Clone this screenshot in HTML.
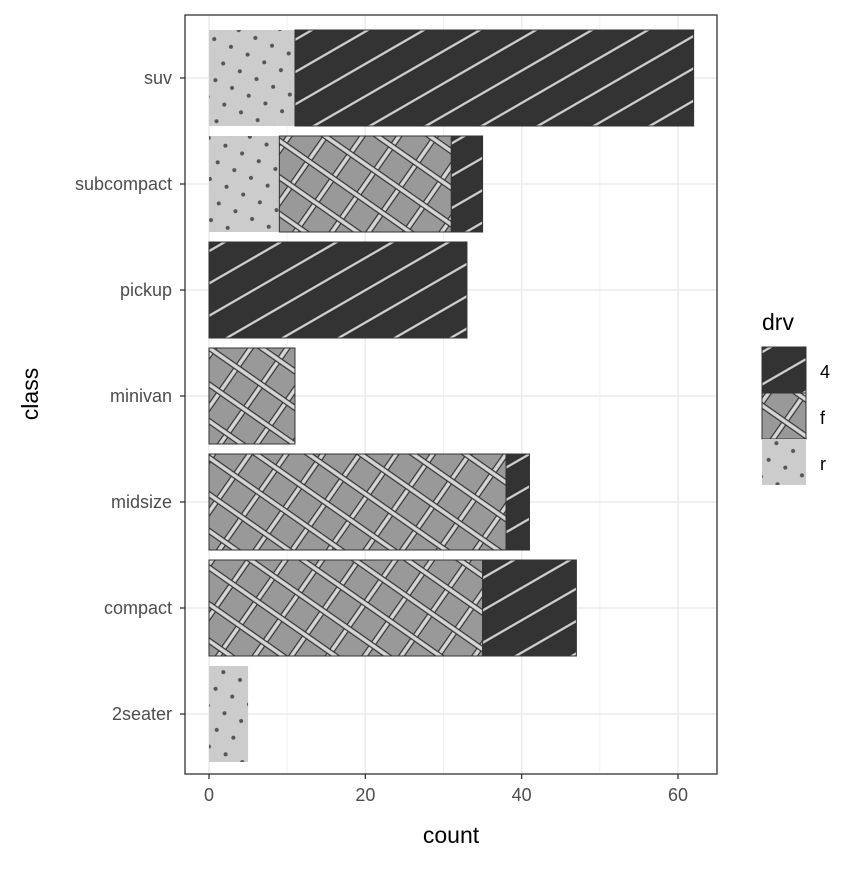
<!DOCTYPE html>
<html><head><meta charset="utf-8"><style>
body{margin:0;background:#fff;}
svg text{font-family:"Liberation Sans",sans-serif;}
</style></head><body>
<svg id="chart" width="864" height="864" xmlns="http://www.w3.org/2000/svg">
<defs>
<pattern id="p4" patternUnits="userSpaceOnUse" width="28" height="28" patternTransform="rotate(-30)">
<rect width="28" height="28" fill="#333333"/>
<rect y="12" width="28" height="4" fill="#222"/>
<rect y="12.8" width="28" height="2.4" fill="#d0d0d0"/>
</pattern>
<pattern id="pf" patternUnits="userSpaceOnUse" width="30" height="30" patternTransform="rotate(-55)">
<rect width="30" height="30" fill="#999999"/>
<rect y="12" width="30" height="6" fill="#333"/>
<rect y="13.2" width="30" height="3.6" fill="#d6d6d6"/>
<rect x="12" width="6" height="30" fill="#333"/>
<rect x="13.2" width="3.6" height="30" fill="#d6d6d6"/>
</pattern>
<pattern id="pr" patternUnits="userSpaceOnUse" width="26" height="26" patternTransform="rotate(-20)">
<rect width="26" height="26" fill="#cccccc"/>
<circle cx="6" cy="6" r="2" fill="#555"/>
<circle cx="19" cy="19" r="2" fill="#555"/>
</pattern>
</defs>
<rect x="185" y="15" width="532" height="759" fill="#fff"/>
<g id="grid"></g>
<g id="bars"></g>
<rect x="185" y="15" width="532" height="759" fill="none" stroke="#333" stroke-width="1.3"/>
<g id="axes"></g>
<text x="451" y="843" font-size="23" text-anchor="middle" fill="#000">count</text>
<text transform="translate(38,394) rotate(-90)" font-size="23" text-anchor="middle" fill="#000">class</text>
<g>
<text x="762" y="330" font-size="23" fill="#000">drv</text>
<g><rect x="762" y="347" width="44" height="46" fill="url(#p4)" stroke="#333"/><text x="820" y="378" font-size="18" fill="#000">4</text></g>
<g><rect x="762" y="393" width="44" height="46" fill="url(#pf)" stroke="#333"/><text x="820" y="424" font-size="18" fill="#000">f</text></g>
<g><rect x="762" y="439" width="44" height="46" fill="url(#pr)"/><text x="820" y="470" font-size="18" fill="#000">r</text></g>
</g>
</svg>
<script>
const categories = ["2seater","compact","midsize","minivan","pickup","subcompact","suv"];
const valuesR = [5,0,0,0,0,9,11];
const valuesF = [0,35,38,11,0,22,0];
const values4 = [0,12,3,0,33,4,51];
const xTicks = [0,20,40,60];
const xMinor = [10,30,50];
const NS="http://www.w3.org/2000/svg";
const xs = v => 209 + v*(678-209)/60;
const ys = i => 714 - i*106;
const bw = 96;
function mk(tag, attrs, parent){const e=document.createElementNS(NS,tag);for(const k in attrs)e.setAttribute(k,attrs[k]);parent.appendChild(e);return e;}
const grid=document.getElementById('grid'), bars=document.getElementById('bars'), axes=document.getElementById('axes');
xMinor.forEach(v=>{const l=mk('line',{x1:xs(v),x2:xs(v),y1:15,y2:774,stroke:'#f2f2f2','stroke-width':1},grid);

});
xTicks.forEach(v=>{const l=mk('line',{x1:xs(v),x2:xs(v),y1:15,y2:774,stroke:'#ebebeb','stroke-width':1.5},grid);


const t=mk('line',{x1:xs(v),x2:xs(v),y1:774,y2:779,stroke:'#333','stroke-width':1.3},axes);


const tx=mk('text',{x:xs(v),y:801,'font-size':18,'text-anchor':'middle',fill:'#4d4d4d'},axes);tx.textContent=v;

});
categories.forEach((c,i)=>{const y=ys(i);
const l=mk('line',{x1:185,x2:717,y1:y,y2:y,stroke:'#ebebeb','stroke-width':1.5},grid);


const t=mk('line',{x1:180,x2:185,y1:y,y2:y,stroke:'#333','stroke-width':1.3},axes);


const tx=mk('text',{x:172,y:y+6,'font-size':18,'text-anchor':'end',fill:'#4d4d4d'},axes);tx.textContent=c;


let start=0;
[[valuesR[i],'url(#pr)','r'],[valuesF[i],'url(#pf)','f'],[values4[i],'url(#p4)','4']].forEach(([v,fill,d])=>{
if(v<=0)return;
const r=mk('rect',{x:xs(start),y:y-bw/2,width:xs(start+v)-xs(start),height:bw,fill:fill,stroke:d==='r'?'none':'#333','stroke-width':1},bars);


start+=v;});
});
</script>
</body></html>
